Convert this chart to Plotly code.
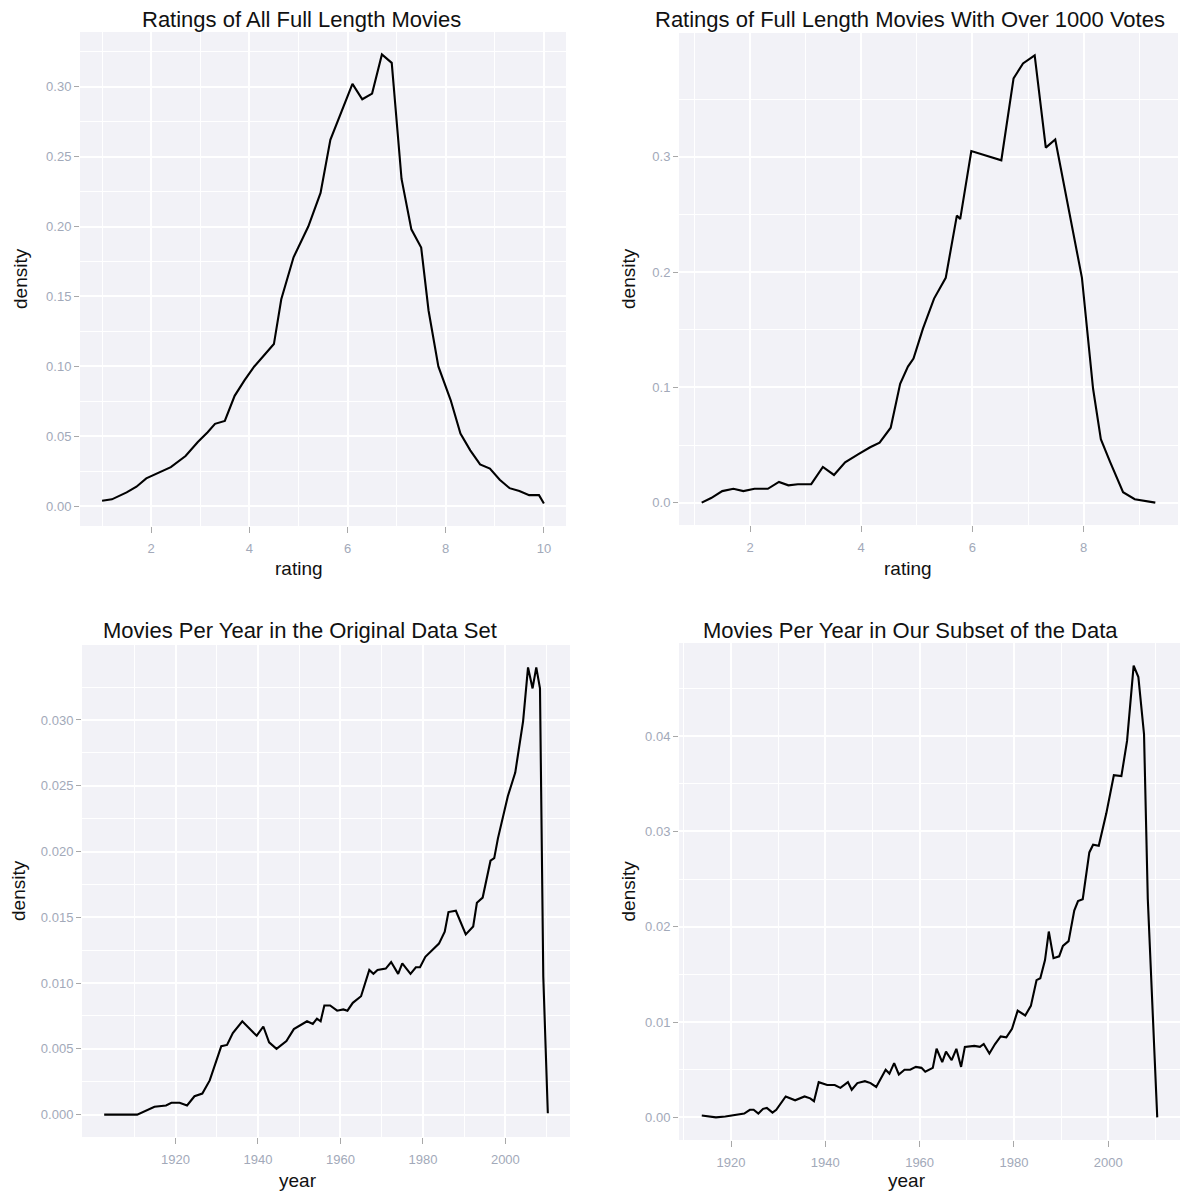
import plotly.graph_objects as go

# --- Ratings of all full length movies ---
rating_all = [1.0, 1.2, 1.5, 1.7, 1.9, 2.1, 2.4, 2.7, 2.95, 3.15, 3.3, 3.5, 3.7, 3.9,
              4.1, 4.3, 4.5, 4.65, 4.9, 5.2, 5.45, 5.65, 5.85, 6.1, 6.3, 6.5, 6.7, 6.9,
              7.1, 7.3, 7.5, 7.65, 7.85, 8.1, 8.3, 8.5, 8.7, 8.9, 9.1, 9.3, 9.5, 9.7,
              9.9, 10.0]
density_all = [0.004, 0.005, 0.010, 0.014, 0.020, 0.023, 0.028, 0.036, 0.046, 0.053,
               0.059, 0.061, 0.079, 0.090, 0.100, 0.108, 0.116, 0.148, 0.178, 0.200,
               0.224, 0.262, 0.280, 0.302, 0.291, 0.295, 0.323, 0.317, 0.234, 0.198,
               0.185, 0.140, 0.100, 0.076, 0.052, 0.040, 0.030, 0.027, 0.019, 0.013,
               0.011, 0.008, 0.008, 0.002]

# --- Ratings of movies with over 1000 votes ---
rating_1000 = [1.13, 1.3, 1.5, 1.7, 1.88, 2.08, 2.32, 2.52, 2.69, 2.86, 3.1, 3.31, 3.51,
               3.71, 3.95, 4.16, 4.33, 4.53, 4.7, 4.84, 4.94, 5.11, 5.31, 5.52, 5.72,
               5.78, 5.98, 6.52, 6.74, 6.91, 7.12, 7.32, 7.49, 7.97, 8.17, 8.31, 8.48,
               8.71, 8.92, 9.29]
density_1000 = [0.000, 0.004, 0.010, 0.012, 0.010, 0.012, 0.012, 0.018, 0.015, 0.016,
                0.016, 0.031, 0.024, 0.035, 0.042, 0.048, 0.052, 0.065, 0.103, 0.118,
                0.125, 0.151, 0.177, 0.195, 0.249, 0.246, 0.305, 0.297, 0.368, 0.381,
                0.388, 0.308, 0.315, 0.195, 0.099, 0.055, 0.035, 0.009, 0.003, 0.000]

# --- Movies per year, original data set ---
year_orig = [1902.7, 1910.7, 1914.9, 1917.7, 1919.0, 1921.0, 1922.8, 1924.6, 1926.5,
             1928.3, 1931.1, 1932.5, 1933.9, 1936.2, 1939.0, 1939.7, 1941.3, 1942.7,
             1944.5, 1946.9, 1948.7, 1951.9, 1953.3, 1954.3, 1955.2, 1956.1, 1957.5,
             1959.2, 1960.7, 1961.7, 1963.0, 1965.0, 1967.0, 1968.0, 1969.0, 1971.0,
             1972.3, 1974.0, 1975.0, 1977.0, 1978.3, 1979.3, 1980.6, 1982.5, 1983.9,
             1985.3, 1986.2, 1988.0, 1990.4, 1992.2, 1993.1, 1994.5, 1996.4, 1997.3,
             1998.2, 2000.6, 2002.4, 2004.3, 2005.5, 2006.6, 2007.5, 2008.4, 2009.2,
             2010.3]
density_orig = [0.0000, 0.0000, 0.0006, 0.0007, 0.0009, 0.0009, 0.0007, 0.0014, 0.0016,
                0.0026, 0.0052, 0.0053, 0.0062, 0.0071, 0.0062, 0.0060, 0.0067, 0.0055,
                0.0050, 0.0056, 0.0065, 0.0071, 0.0069, 0.0073, 0.0071, 0.0083, 0.0083,
                0.0079, 0.0080, 0.0079, 0.0085, 0.0090, 0.0110, 0.0107, 0.0110, 0.0111,
                0.0116, 0.0107, 0.0115, 0.0107, 0.0112, 0.0112, 0.0120, 0.0126, 0.0130,
                0.0139, 0.0154, 0.0155, 0.0137, 0.0143, 0.0161, 0.0165, 0.0193, 0.0195,
                0.0210, 0.0242, 0.0260, 0.0299, 0.0340, 0.0324, 0.0340, 0.0324, 0.0105,
                0.0001]

# --- Movies per year, our subset ---
year_sub = [1913.8, 1916.8, 1918.8, 1920.0, 1921.2, 1922.8, 1924.0, 1924.8, 1925.8,
            1926.8, 1927.6, 1928.8, 1929.6, 1931.6, 1933.6, 1935.6, 1936.8, 1937.6,
            1938.6, 1940.4, 1942.0, 1943.2, 1944.8, 1945.6, 1946.8, 1948.4, 1949.6,
            1950.8, 1952.8, 1953.6, 1954.6, 1955.6, 1956.8, 1958.0, 1959.2, 1960.4,
            1961.2, 1962.8, 1963.6, 1964.8, 1965.6, 1966.8, 1967.8, 1968.8, 1969.6,
            1971.6, 1972.8, 1973.6, 1974.8, 1976.0, 1977.2, 1978.4, 1979.6, 1980.8,
            1982.4, 1983.6, 1984.8, 1985.6, 1986.6, 1987.4, 1988.4, 1989.6, 1990.4,
            1991.6, 1992.8, 1993.6, 1994.6, 1996.0, 1996.8, 1998.0, 1999.6, 2001.2,
            2002.8, 2004.0, 2005.4, 2006.4, 2007.6, 2008.4, 2010.4]
density_sub = [0.0002, 0.0000, 0.0001, 0.0002, 0.0003, 0.0004, 0.0008, 0.0008, 0.0004,
               0.0009, 0.0010, 0.0005, 0.0008, 0.0022, 0.0018, 0.0022, 0.0020, 0.0017,
               0.0037, 0.0034, 0.0034, 0.0031, 0.0037, 0.0029, 0.0036, 0.0038, 0.0036,
               0.0032, 0.0050, 0.0046, 0.0057, 0.0045, 0.0050, 0.0050, 0.0053, 0.0052,
               0.0048, 0.0052, 0.0072, 0.0058, 0.0069, 0.0060, 0.0072, 0.0053, 0.0074,
               0.0075, 0.0074, 0.0077, 0.0067, 0.0077, 0.0085, 0.0084, 0.0093, 0.0112,
               0.0107, 0.0117, 0.0144, 0.0146, 0.0165, 0.0195, 0.0167, 0.0169, 0.0180,
               0.0185, 0.0217, 0.0227, 0.0229, 0.0278, 0.0286, 0.0285, 0.0319, 0.0359,
               0.0358, 0.0395, 0.0474, 0.0462, 0.0402, 0.0229, 0.0000]

# Axis break labels
rating_ticks_all = [2, 4, 6, 8, 10]
rating_ticks_1000 = [2, 4, 6, 8]
year_ticks = [1920, 1940, 1960, 1980, 2000]
density_ticks_all = [0.00, 0.05, 0.10, 0.15, 0.20, 0.25, 0.30]
density_ticks_1000 = [0.0, 0.1, 0.2, 0.3]
density_ticks_orig = [0.000, 0.005, 0.010, 0.015, 0.020, 0.025, 0.030]
density_ticks_sub = [0.00, 0.01, 0.02, 0.03, 0.04]

W, H = 1192, 1195
PANEL_BG = "#F2F2F7"
FAMILY = "Liberation Sans, Arial, sans-serif"
TICK_FONT = dict(family=FAMILY, size=13, color="#A2A9B9")
LABEL_FONT = dict(family=FAMILY, size=19, color="#111111")
TITLE_FONT = dict(family=FAMILY, size=22, color="#111111")


def fx(px):
    return px / W


def fy(py):
    return 1 - py / H


def padded(lo, hi, frac=0.05):
    d = (hi - lo) * frac
    return [lo - d, hi + d]


def midpoints(vals, lo, hi):
    step = vals[1] - vals[0]
    pts = [vals[0] + step * (k - 0.5) for k in range(-20, 60)]
    return [v for v in pts if lo <= v <= hi]


panels = [
    dict(x=rating_all, y=density_all, box=(80, 566, 32, 526),
         xt=rating_ticks_all, yt=density_ticks_all, yfmt=".2f",
         title="Ratings of All Full Length Movies", tx=301, ty=19,
         xlab="rating", xlx=299, xly=568, ylx=20),
    dict(x=rating_1000, y=density_1000, box=(679, 1178, 33, 525),
         xt=rating_ticks_1000, yt=density_ticks_1000, yfmt=".1f",
         title="Ratings of Full Length Movies With Over 1000 Votes", tx=910, ty=19,
         xlab="rating", xlx=908, xly=568, ylx=628),
    dict(x=year_orig, y=density_orig, box=(82, 570, 645, 1137),
         xt=year_ticks, yt=density_ticks_orig, yfmt=".3f",
         title="Movies Per Year in the Original Data Set", tx=300, ty=630,
         xlab="year", xlx=298, xly=1180, ylx=18),
    dict(x=year_sub, y=density_sub, box=(679, 1180, 643, 1140),
         xt=year_ticks, yt=density_ticks_sub, yfmt=".2f",
         title="Movies Per Year in Our Subset of the Data", tx=910, ty=630,
         xlab="year", xlx=907, xly=1180, ylx=628),
]

fig = go.Figure()
layout = dict(
    width=W, height=H, margin=dict(l=0, r=0, t=0, b=0),
    paper_bgcolor="white", plot_bgcolor=PANEL_BG, showlegend=False,
)
annotations = []

for i, p in enumerate(panels, start=1):
    suffix = "" if i == 1 else str(i)
    x0, x1, y0, y1 = p["box"]
    fig.add_trace(go.Scatter(
        x=p["x"], y=p["y"], mode="lines",
        line=dict(color="black", width=2.1),
        xaxis="x" + suffix, yaxis="y" + suffix, hoverinfo="skip",
    ))
    xr = padded(min(p["x"]), max(p["x"]))
    yr = padded(min(p["y"]), max(p["y"]))
    layout["xaxis" + suffix] = dict(
        domain=[fx(x0), fx(x1)], anchor="y" + suffix, range=xr,
        tickvals=p["xt"], ticks="outside", ticklen=6, tickwidth=1,
        tickcolor="#A8A8A8", tickfont=TICK_FONT, ticklabelstandoff=4,
        showline=False, zeroline=False,
        showgrid=True, gridcolor="white", gridwidth=1.6,
        minor=dict(showgrid=True, gridcolor="white", gridwidth=0.7,
                   tickvals=midpoints(p["xt"], *xr)),
        fixedrange=True,
    )
    layout["yaxis" + suffix] = dict(
        domain=[fy(y1), fy(y0)], anchor="x" + suffix, range=yr,
        tickvals=p["yt"], tickformat=p["yfmt"], ticks="outside", ticklen=5,
        tickwidth=1, tickcolor="#A8A8A8", tickfont=TICK_FONT, showline=False,
        zeroline=False, showgrid=True, gridcolor="white", gridwidth=1.6,
        minor=dict(showgrid=True, gridcolor="white", gridwidth=0.7,
                   tickvals=midpoints(p["yt"], *yr)),
        fixedrange=True,
    )
    annotations.append(dict(text=p["title"], x=fx(p["tx"]), y=fy(p["ty"]),
                            xref="paper", yref="paper", showarrow=False,
                            xanchor="center", yanchor="middle", font=TITLE_FONT))
    annotations.append(dict(text=p["xlab"], x=fx(p["xlx"]), y=fy(p["xly"]),
                            xref="paper", yref="paper", showarrow=False,
                            xanchor="center", yanchor="middle", font=LABEL_FONT))
    annotations.append(dict(text="density", x=fx(p["ylx"]), y=fy((y0 + y1) / 2),
                            xref="paper", yref="paper", showarrow=False, textangle=-90,
                            xanchor="center", yanchor="middle", font=LABEL_FONT))

layout["annotations"] = annotations
fig.update_layout(**layout)
fig.write_html("out.html")
